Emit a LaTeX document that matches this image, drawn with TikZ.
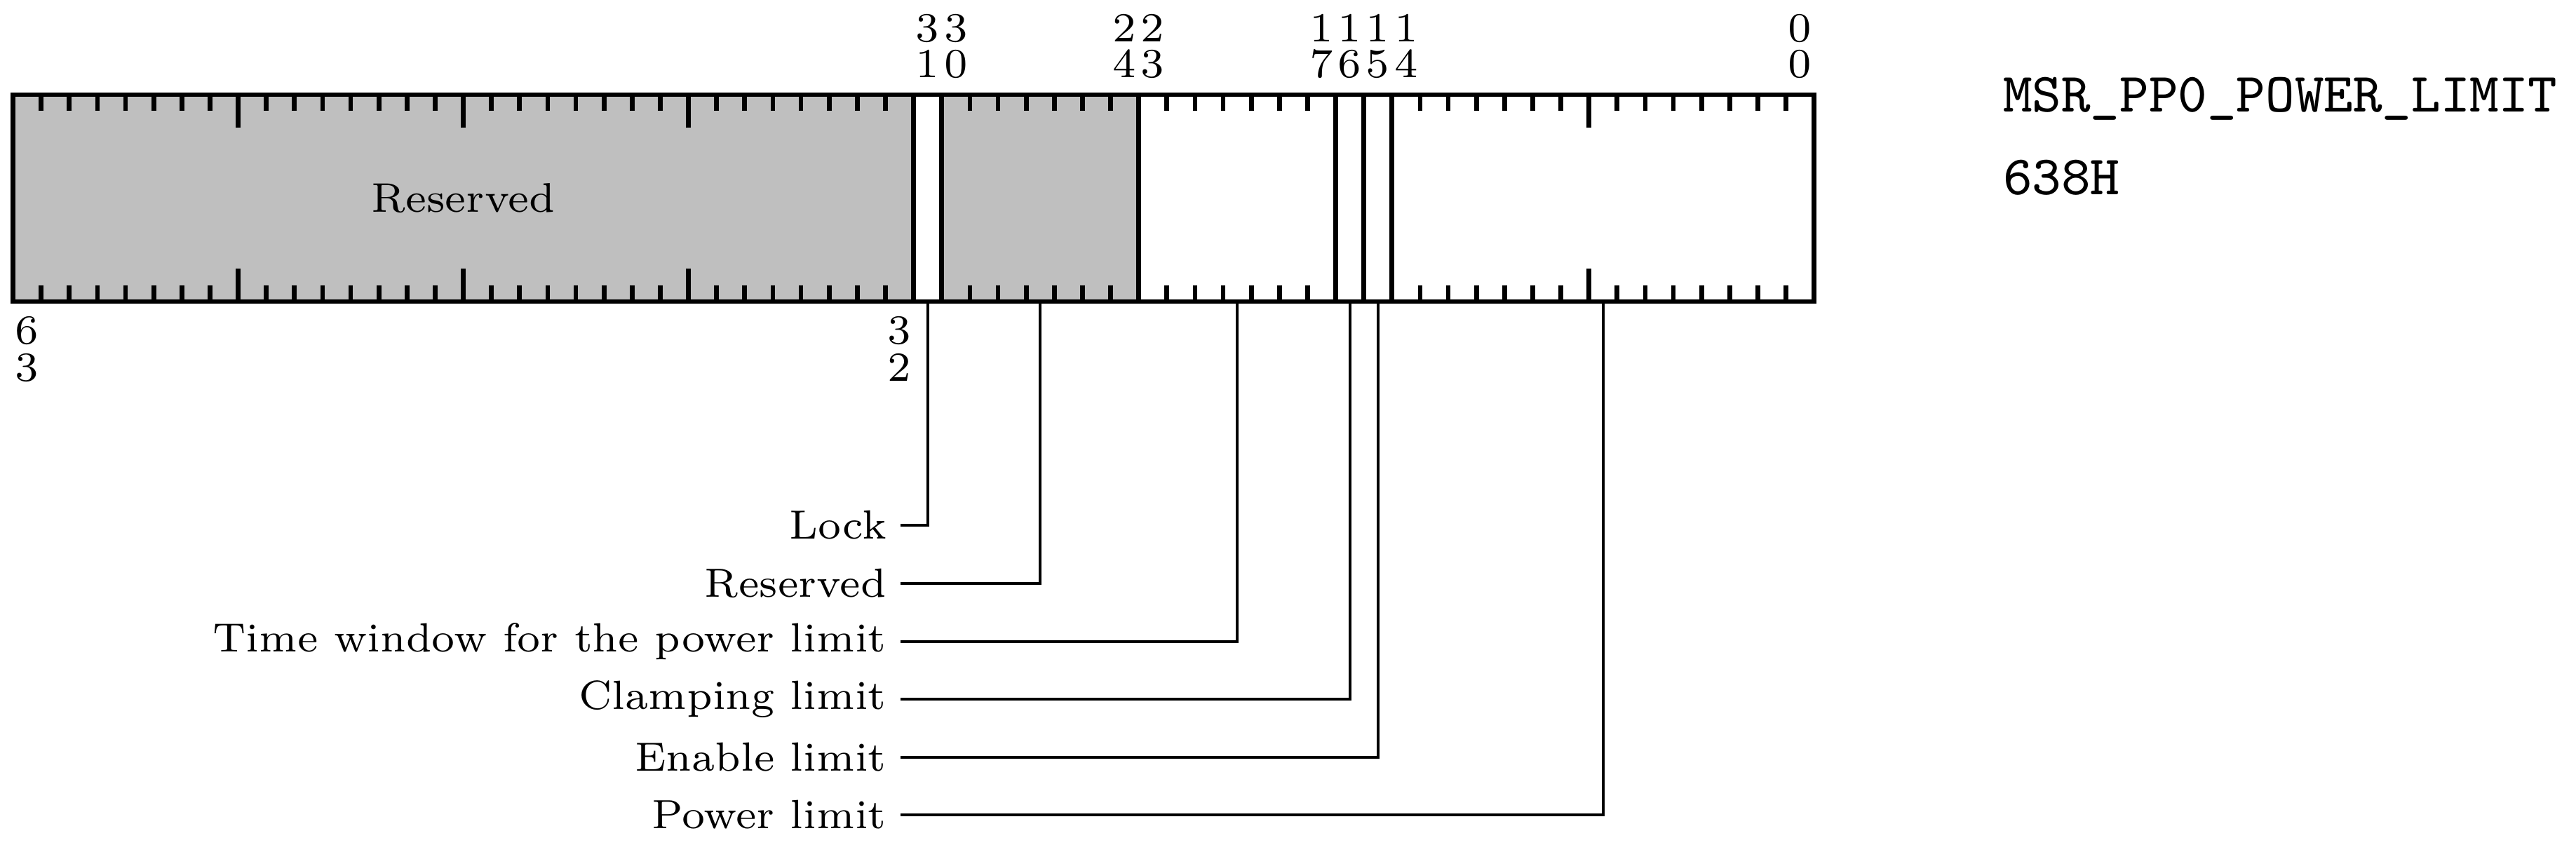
\documentclass[tikz,border=0pt]{standalone}
\usepackage{tikz}

\begin{document}
\begin{tikzpicture}[x=4.76pt, y=4.76pt,
    reg/.style={line width=0.8pt},
    bitnum/.style={anchor=base, inner sep=0pt, font=\fontsize{7}{8}\selectfont},
    fieldname/.style={anchor=east, inner sep=2.2pt, font=\fontsize{6.9}{8}\selectfont},
    lead/.style={line width=0.45pt},
    msrname/.style={anchor=base west, inner sep=0pt, font=\ttfamily\fontsize{9.4}{11}\selectfont}]
  \useasboundingbox (-0.461,-19.312) rectangle (91.07,10.715);
  % register body
  \fill[lightgray] (0,0) rectangle (32,7.35) (33,0) rectangle (40,7.35);
  \draw[reg] (0,0) rectangle (64,7.35);
  \foreach \x in {32,33,40,47,48,49}
    \draw[reg] (\x,0) -- (\x,7.35);
  \foreach \a/\b in {1/31,34/39,41/46,50/63}
    \foreach \x in {\a,...,\b}
      \draw[reg] (\x,0) -- ++(0,0.58) (\x,7.35) -- ++(0,-0.58);
  \foreach \x in {8,16,24,56}
    \draw[reg] (\x,0) -- ++(0,1.17) (\x,7.35) -- ++(0,-1.17);
  \node[font=\fontsize{7}{8}\selectfont] (rsvdhi) at (16,3.675) {Reserved};
  % bit numbers
  \foreach \b/\t/\u in {31/3/1,30/3/0,24/2/4,23/2/3,17/1/7,16/1/6,15/1/5,14/1/4,0/0/0} {
    \node[bitnum] (hi\b) at (63.5-\b,9.23) {\t};
    \node[bitnum] (lo\b) at (63.5-\b,7.95) {\u};
  }
  \foreach \b/\t/\u in {63/6/3,32/3/2} {
    \node[bitnum] (bhi\b) at (63.5-\b,-1.52) {\t};
    \node[bitnum] (blo\b) at (63.5-\b,-2.84) {\u};
  }
  % register name
  \node[msrname] (msr) at (70.67,6.73) {MSR\_PP0\_POWER\_LIMIT};
  \node[msrname] (addr) at (70.67,3.79) {638H};
  % field descriptions
  \coordinate (f31) at (32.5,0);
  \coordinate (f30) at (36.5,0);
  \coordinate (f23) at (43.5,0);
  \coordinate (f16) at (47.5,0);
  \coordinate (f15) at (48.5,0);
  \coordinate (f14) at (56.5,0);
  \node[fieldname] (lock) at (31.54,-7.95) {Lock};
  \node[fieldname] (rsvd) at (31.54,-10.02) {Reserved};
  \node[fieldname] (twin) at (31.54,-12.08) {Time window for the power limit};
  \node[fieldname] (clamp) at (31.54,-14.13) {Clamping limit};
  \node[fieldname] (enbl) at (31.54,-16.2) {Enable limit};
  \node[fieldname] (plim) at (31.54,-18.24) {Power limit};
  \draw[lead] (lock.east) -| (f31);
  \draw[lead] (rsvd.east) -| (f30);
  \draw[lead] (twin.east) -| (f23);
  \draw[lead] (clamp.east) -| (f16);
  \draw[lead] (enbl.east) -| (f15);
  \draw[lead] (plim.east) -| (f14);
\end{tikzpicture}
\end{document}
